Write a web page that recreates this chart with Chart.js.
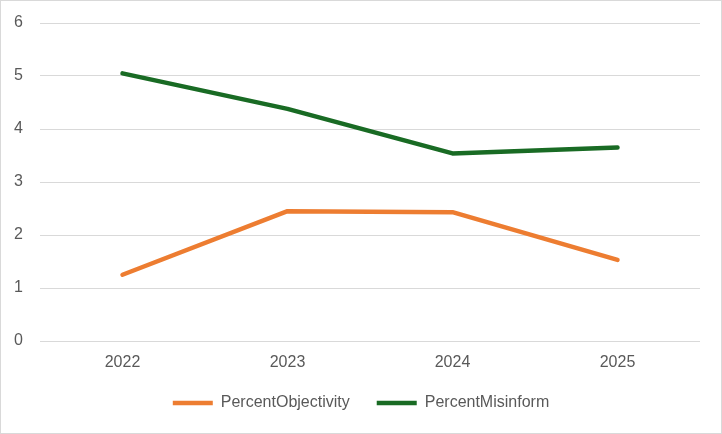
<!DOCTYPE html>
<html>
<head>
<meta charset="utf-8">
<script src="https://cdn.jsdelivr.net/npm/chart.js@4.4.1/dist/chart.umd.min.js"></script>
<style>
  html, body { margin: 0; padding: 0; background: #fff; }
  #wrap {
    position: relative;
    width: 722px;
    height: 434px;
    box-sizing: border-box;
    border: 1px solid #d9d9d9;
  }
  canvas { display: block; }
</style>
</head>
<body>
<div id="wrap"><canvas id="chart"></canvas></div>
<script>
// Data
const years = ["2022", "2023", "2024", "2025"];
const percentObjectivity = [1.25, 2.45, 2.43, 1.53];
const percentMisinform = [5.05, 4.38, 3.54, 3.65];
const yTicks = [0, 1, 2, 3, 4, 5, 6];

Chart.defaults.font.family = "'Liberation Sans', Arial, sans-serif";
Chart.defaults.font.size = 16;
Chart.defaults.color = "#595959";

const canvas = document.getElementById("chart");
canvas.width = 720;
canvas.height = 432;

new Chart(canvas.getContext("2d"), {
  type: "line",
  data: {
    labels: years,
    datasets: [
      {
        label: "PercentObjectivity",
        data: percentObjectivity,
        borderColor: "#ED7D31",
        backgroundColor: "#ED7D31",
        borderWidth: 4.5,
        borderCapStyle: "round",
        borderJoinStyle: "round",
        pointRadius: 0,
        tension: 0,
      },
      {
        label: "PercentMisinform",
        data: percentMisinform,
        borderColor: "#196B24",
        backgroundColor: "#196B24",
        borderWidth: 4.5,
        borderCapStyle: "round",
        borderJoinStyle: "round",
        pointRadius: 0,
        tension: 0,
      },
    ],
  },
  options: {
    responsive: false,
    animation: false,
    layout: {
      autoPadding: false,
      padding: { top: 22, right: 0, bottom: 12, left: 0 },
    },
    scales: {
      x: {
        offset: true,
        grid: { display: false, drawTicks: false },
        border: { display: false },
        ticks: { padding: 12 },
        afterFit: (scale) => { scale.height = 27; },
      },
      y: {
        min: 0,
        max: 6,
        afterBuildTicks: (scale) => {
          scale.ticks = yTicks.map((v) => ({ value: v }));
        },
        grid: { color: "#d9d9d9", lineWidth: 1, drawTicks: false },
        border: { display: false },
        ticks: { padding: 17 },
        afterFit: (scale) => {
          scale.width = 39;
          // tick padding should not push the plot down
          scale.paddingTop = 0;
          scale.paddingBottom = 0;
        },
      },
      // empty right-hand axis, only keeps the plot clear of the right edge
      yRight: {
        position: "right",
        grid: { display: false, drawTicks: false },
        border: { display: false },
        ticks: { display: false },
        afterFit: (scale) => {
          scale.width = 21;
          scale.paddingTop = 0;
          scale.paddingBottom = 0;
        },
      },
    },
    plugins: {
      legend: {
        position: "bottom",
        labels: {
          usePointStyle: true,
          pointStyle: "line",
          pointStyleWidth: 40,
          boxHeight: 4,
          padding: 27,
          color: "#595959",
        },
      },
      tooltip: { enabled: false },
    },
  },
});
</script>
</body>
</html>
